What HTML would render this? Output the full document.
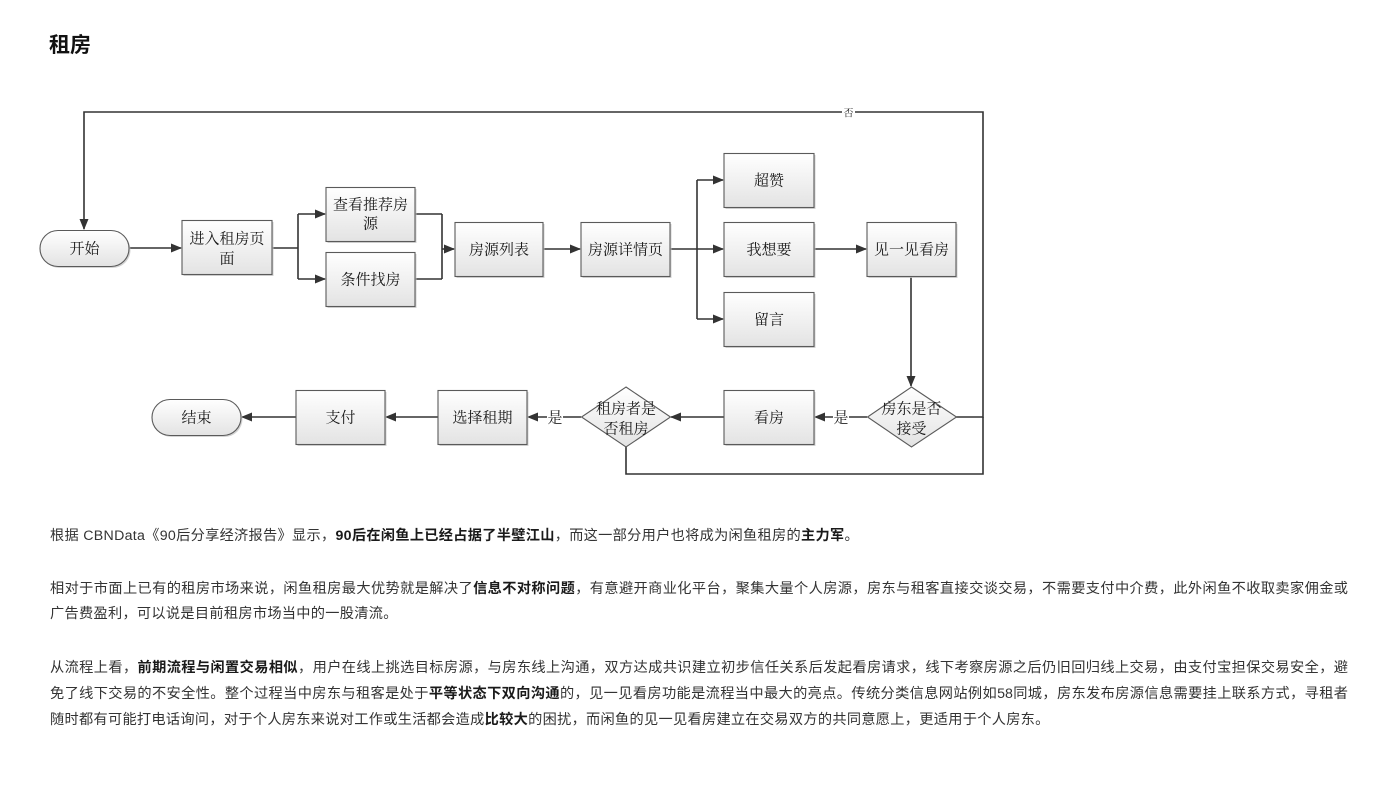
<!DOCTYPE html>
<html>
<head>
<meta charset="utf-8">
<style>
  html,body{margin:0;padding:0;background:#fff;}
  body{width:1400px;height:787px;position:relative;overflow:hidden;}
  .title{position:absolute;left:49px;top:32px;font-family:"Liberation Sans","Noto Sans CJK SC",sans-serif;font-size:21px;font-weight:bold;color:#111;line-height:28px;}
  svg{position:absolute;left:0;top:0;}
  .ln{position:absolute;left:50px;width:1298px;height:26px;line-height:26px;font-family:"Liberation Sans","Noto Sans CJK SC",sans-serif;font-size:14.2px;color:#333;white-space:nowrap;overflow:visible;letter-spacing:0.3px;}
  .j{text-align:justify;text-align-last:justify;white-space:normal;letter-spacing:0;}
  .ln b{color:#1a1a1a;font-weight:bold;}
  .dt{font-family:"Noto Serif CJK SC","Liberation Serif",serif;}
</style>
</head>
<body>
<div class="title">租房</div>

<svg width="1400" height="787" viewBox="0 0 1400 787" xmlns="http://www.w3.org/2000/svg">
  <defs>
    <linearGradient id="g" x1="0" y1="0" x2="0" y2="1">
      <stop offset="0" stop-color="#ffffff"/>
      <stop offset="1" stop-color="#e3e3e3"/>
    </linearGradient>
    <marker id="a" markerUnits="userSpaceOnUse" markerWidth="11" markerHeight="9" refX="10" refY="4.5" orient="auto">
      <path d="M0,0 L11,4.5 L0,9 z" fill="#333"/>
    </marker>
  </defs>

  <g stroke="#333" stroke-width="1.6" fill="none">
    <polyline points="956,417 983,417 983,112 84,112 84,229" marker-end="url(#a)"/>
    <polyline points="626,447 626,474 983,474 983,417"/>
    <line x1="129" y1="248" x2="181" y2="248" marker-end="url(#a)"/>
    <line x1="272" y1="248" x2="298" y2="248"/>
    <line x1="298" y1="214" x2="298" y2="279"/>
    <line x1="298" y1="214" x2="325" y2="214" marker-end="url(#a)"/>
    <line x1="298" y1="279" x2="325" y2="279" marker-end="url(#a)"/>
    <line x1="415" y1="214" x2="442" y2="214"/>
    <line x1="415" y1="279" x2="442" y2="279"/>
    <line x1="442" y1="214" x2="442" y2="279"/>
    <line x1="442" y1="249" x2="454" y2="249" marker-end="url(#a)"/>
    <line x1="543" y1="249" x2="580" y2="249" marker-end="url(#a)"/>
    <line x1="670" y1="249" x2="697" y2="249"/>
    <line x1="697" y1="180" x2="697" y2="319"/>
    <line x1="697" y1="180" x2="723" y2="180" marker-end="url(#a)"/>
    <line x1="697" y1="249" x2="723" y2="249" marker-end="url(#a)"/>
    <line x1="697" y1="319" x2="723" y2="319" marker-end="url(#a)"/>
    <line x1="814" y1="249" x2="866" y2="249" marker-end="url(#a)"/>
    <line x1="911" y1="276" x2="911" y2="386" marker-end="url(#a)"/>
    <line x1="867" y1="417" x2="815" y2="417" marker-end="url(#a)"/>
    <line x1="724" y1="417" x2="671" y2="417" marker-end="url(#a)"/>
    <line x1="581" y1="417" x2="528" y2="417" marker-end="url(#a)"/>
    <line x1="438" y1="417" x2="386" y2="417" marker-end="url(#a)"/>
    <line x1="296" y1="417" x2="242" y2="417" marker-end="url(#a)"/>
  </g>

  <rect x="842" y="105" width="13" height="13" fill="#fff"/>
  <text class="dt" x="848.5" y="112" font-size="10" fill="#222" text-anchor="middle" dominant-baseline="central">否</text>
  <rect x="833" y="409" width="16" height="16" fill="#fff"/>
  <text class="dt" x="841" y="417" font-size="15" fill="#222" text-anchor="middle" dominant-baseline="central">是</text>
  <rect x="547" y="409" width="16" height="16" fill="#fff"/>
  <text class="dt" x="555" y="417" font-size="15" fill="#222" text-anchor="middle" dominant-baseline="central">是</text>

  <g stroke="#5a5a5a" stroke-width="1.1" fill="url(#g)">
    <g fill="#c8c8c8" stroke="none" opacity="0.8">
      <rect x="41.5" y="232" width="89" height="36" rx="18"/>
      <rect x="153.5" y="401" width="89" height="36" rx="18"/>
      <rect x="183.5" y="222" width="90" height="54"/>
      <rect x="327.5" y="189" width="89" height="54"/>
      <rect x="327.5" y="254" width="89" height="54"/>
      <rect x="456.5" y="224" width="88" height="54"/>
      <rect x="582.5" y="224" width="89" height="54"/>
      <rect x="725.5" y="155" width="90" height="54"/>
      <rect x="725.5" y="224" width="90" height="54"/>
      <rect x="725.5" y="294" width="90" height="54"/>
      <rect x="868.5" y="224" width="89" height="54"/>
      <rect x="725.5" y="392" width="90" height="54"/>
      <rect x="439.5" y="392" width="89" height="54"/>
      <rect x="297.5" y="392" width="89" height="54"/>
    </g>
    <rect x="40" y="230.5" width="89" height="36" rx="18"/>
    <rect x="152" y="399.5" width="89" height="36" rx="18"/>
    <rect x="182" y="220.5" width="90" height="54"/>
    <rect x="326" y="187.5" width="89" height="54"/>
    <rect x="326" y="252.5" width="89" height="54"/>
    <rect x="455" y="222.5" width="88" height="54"/>
    <rect x="581" y="222.5" width="89" height="54"/>
    <rect x="724" y="153.5" width="90" height="54"/>
    <rect x="724" y="222.5" width="90" height="54"/>
    <rect x="724" y="292.5" width="90" height="54"/>
    <rect x="867" y="222.5" width="89" height="54"/>
    <rect x="724" y="390.5" width="90" height="54"/>
    <rect x="438" y="390.5" width="89" height="54"/>
    <rect x="296" y="390.5" width="89" height="54"/>
    <polygon points="911.5,387 956.5,417 911.5,447 867.5,417"/>
    <polygon points="626,387 670.5,417 626,447 581.5,417"/>
  </g>

  <g class="dt" font-size="15" fill="#1a1a1a" text-anchor="middle" dominant-baseline="central">
    <text x="84.5" y="248">开始</text>
    <text x="196.5" y="417">结束</text>
    <text x="227" y="238">进入租房页</text>
    <text x="227" y="258">面</text>
    <text x="370.5" y="204">查看推荐房</text>
    <text x="370.5" y="223">源</text>
    <text x="370.5" y="279">条件找房</text>
    <text x="499" y="249">房源列表</text>
    <text x="625.5" y="249">房源详情页</text>
    <text x="769" y="180">超赞</text>
    <text x="769" y="249">我想要</text>
    <text x="769" y="319">留言</text>
    <text x="911.5" y="249">见一见看房</text>
    <text x="911.5" y="408">房东是否</text>
    <text x="911.5" y="428">接受</text>
    <text x="769" y="417">看房</text>
    <text x="626" y="408">租房者是</text>
    <text x="626" y="428">否租房</text>
    <text x="482.5" y="417">选择租期</text>
    <text x="340.5" y="417">支付</text>
  </g>
</svg>

<div class="ln" style="top:523px;">根据 CBNData《90后分享经济报告》显示，<b>90后在闲鱼上已经占据了半壁江山</b>，而这一部分用户也将成为闲鱼租房的<b>主力军</b>。</div>

<div class="ln j" style="top:576px;">相对于市面上已有的租房市场来说，闲鱼租房最大优势就是解决了<b>信息不对称问题</b>，有意避开商业化平台，聚集大量个人房源，房东与租客直接交谈交易，不需要支付中介费，此外闲鱼不收取卖家佣金或</div>
<div class="ln" style="top:601px;">广告费盈利，可以说是目前租房市场当中的一股清流。</div>

<div class="ln j" style="top:655px;">从流程上看，<b>前期流程与闲置交易相似</b>，用户在线上挑选目标房源，与房东线上沟通，双方达成共识建立初步信任关系后发起看房请求，线下考察房源之后仍旧回归线上交易，由支付宝担保交易安全，避</div>
<div class="ln j" style="top:681px;">免了线下交易的不安全性。整个过程当中房东与租客是处于<b>平等状态下双向沟通</b>的，见一见看房功能是流程当中最大的亮点。传统分类信息网站例如58同城，房东发布房源信息需要挂上联系方式，寻租者</div>
<div class="ln" style="top:707px;">随时都有可能打电话询问，对于个人房东来说对工作或生活都会造成<b>比较大</b>的困扰，而闲鱼的见一见看房建立在交易双方的共同意愿上，更适用于个人房东。</div>

</body>
</html>
